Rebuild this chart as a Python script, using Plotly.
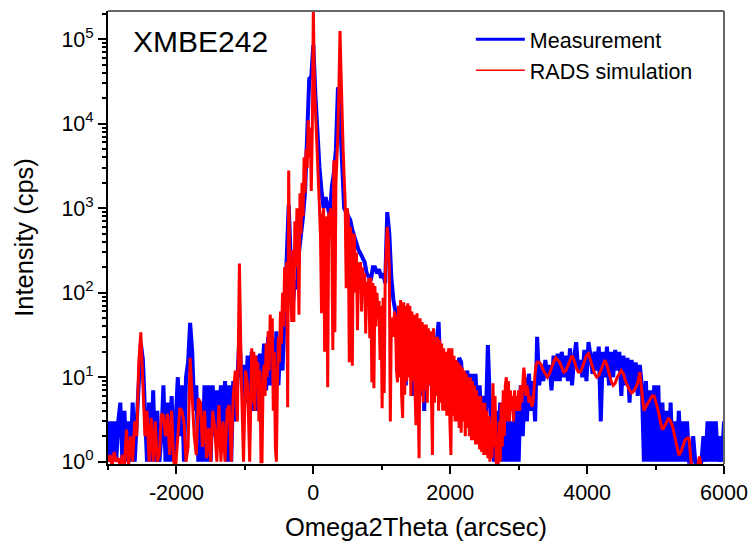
import plotly.graph_objects as go

angle = list(range(-3000, 6001, 30))

measurement = [
 1,3,1,3,1,3,5,1,4,1,
 3,1,5,1,3,12,25,16,3,1,
 5,1,7,1,4,1,2,8,1,5,
 1,6,1,3,10,2,8,1,10,15,
 44,20,4,8,1,5,1,8,1,8,
 1,8,2,7,3,8,2,9,1,8,
 1,9,3,9,30,10,14,5,18,6,
 20,4,18,4,19,8,25,7,30,8,
 22,7,35,8,30,12,45,300,1100,250,
 70,140,110,300,450,800,1600,7000,34000,36000,
 85000,22000,6500,3000,1600,1000,1350,1000,800,1800,
 2600,5000,27000,12000,3100,1000,900,800,720,550,
 450,400,320,290,265,230,170,150,140,200,
 200,170,190,150,170,130,900,500,150,82,
 60,20,70,12,50,8,60,10,40,6,
 8,45,6,35,4,30,8,25,5,22,
 25,45,10,18,6,15,5,15,4,14,
 6,17,15,5,8,12,3,11,3,11,
 3,8,2,6,3,24,5,2,1,4,
 1,5,1,6,1,5,1,3,1,6,
 1,8,2,10,3,11,4,9,3,30,
 8,14,9,16,10,14,7,18,9,19,
 9,20,10,18,9,22,8,17,26,12,
 16,10,21,9,26,18,11,20,12,23,
 3,20,10,23,8,20,10,21,12,20,
 6,18,8,17,5,16,7,15,6,14,
 8,1,9,1,7,1,8,1,8,1,
 5,1,4,1,5,1,3,1,4,1,
 3,1,3,1,1,2,1,0.8,0.8,1,
 2,1,3,1,3,1,3,1,2,1,
 3,
]

angle_sim_left = list(range(-3000, -900, 30))
sim_left = [
 1,1.2,0.9,1.3,1,1.1,0.9,1.2,0.9,2.4,
 0.9,2,1,3,2,15,34,8,2,4,
 1,3.3,1,3,1,1.2,3.7,3.5,2,3.7,
 1.2,4,1,0.9,2,4.3,4,3,1,1.5,
 17,6,2,1.2,5.6,5,1.5,4,1.1,2.5,
 1,4,2.5,1,4.7,1,3,1,4,4.7,
 1,6,12,3,222,8,1,12,8,1,
]

angle_sim_mid = list(range(-900, 3300, 15))
sim_mid = [
 22,5,20,4,18,8,15,3,12,1,1,8,14,6,25,10,35,12,55,20,
 50,4,20,1.5,1,8,30,15,60,25,100,40,200,60,230,4.4,2800,150,100,45,
 320,45,700,200,1000,300,55,1500,500,2000,800,4000,1500,5000,3000,11000,4000,9000,1600,9000,
 230000,30000,16000,8000,5000,2500,1000,450,57,800,1000,20,800,600,7.6,900,700,1000,400,21,
 3700,34,2000,4000,8000,30000,125000,40000,10000,5000,2400,1200,113,1000,800,15,600,450,13.7,500,
 450,100,300,36,230,120,230,60,200,100,170,33,135,70,150,29,150,8.7,130,7.4,
 120,40,100,50,80,16,70,4.3,87,6.5,150,300,600,400,200,3,51,40,30,60,
 51,12,8.7,70,10,82,6,3.3,77,6.2,70,9,75,10,70,6,60,9,55,7,
 2.7,57,8,1.1,50,7,45,5,42,7,42,5,38,8,35,5,1.2,38,5,30,
 6,30,4,28,5,25,4,22,4,20,3.5,18,22,3,1.2,22,3.5,18,3,16,
 3,15,2.5,14,2.2,13,3,12,2,11,2.5,10,2,10,1.8,9,1.8,8,1.6,7,
 1.6,6,1.4,6,1.3,5,1.2,5,1.2,4,1.1,3.5,1,3,1.1,8.5,1.5,6,1,0.9,
 0.9,3,1,5,1.5,7,2,8,10,3,9,3,7,4,6,3,7,4,6,4,
 7,4,8,5,10,13,10,6,8,7,5,6,5,4.5,5,8,11,14,15,15,
]

angle_sim_right = list(range(3300, 5701, 30))
sim_right = [
 15,14,12,11,10,11,13,15,17,16,
 15,13,11.5,12,14,16,18,16,13,11.5,
 11.5,13,15,18,19,16,13,11,10,10.5,
 12,14,16,14,11,9,8,8.5,10,11,
 12,11,9,8,7,6.5,6.8,7.5,8.7,11.5,
 7,4,4.5,5,5.5,6,6,5,4,3,
 2.4,2.6,3.0,3.3,3,2.6,2,1.5,1.2,1.3,
 1.5,1.8,1.9,1.9,0.95,0.9,0.85,0.85,1.15,0.85,
 0.85,
]

x_ticks = [-2000, 0, 2000, 4000, 6000]
x_labels = ["-2000", "0", "2000", "4000", "6000"]
x_minor = [-3000, -1000, 1000, 3000, 5000]
y_ticks = [1, 10, 100, 1000, 10000, 100000]
y_labels = ["10<sup>0</sup>", "10<sup>1</sup>", "10<sup>2</sup>", "10<sup>3</sup>", "10<sup>4</sup>", "10<sup>5</sup>"]
y_minor = [m * t for t in y_ticks for m in range(2, 10) if m * t < 215000]

FONT = "Liberation Sans"
fig = go.Figure()
fig.add_trace(go.Scatter(x=angle, y=measurement, mode="lines", showlegend=False,
                         line=dict(color="#0000ff", width=4)))
fig.add_trace(go.Scatter(x=angle_sim_left + angle_sim_mid + angle_sim_right,
                         y=sim_left + sim_mid + sim_right, mode="lines", showlegend=False,
                         line=dict(color="#ff0000", width=3)))
fig.add_trace(go.Scatter(x=[None], y=[None], mode="lines", name="Measurement",
                         line=dict(color="#0000ff", width=3)))
fig.add_trace(go.Scatter(x=[None], y=[None], mode="lines", name="RADS simulation",
                         line=dict(color="#ff0000", width=1.5)))

fig.update_layout(
    width=749, height=541,
    margin=dict(l=107.5, r=25, t=11, b=77, autoexpand=False),
    paper_bgcolor="white", plot_bgcolor="white",
    font=dict(family=FONT, color="black"),
    legend=dict(x=0.589, y=0.983, xanchor="left", yanchor="top", bgcolor="rgba(0,0,0,0)",
                font=dict(size=21.5, family=FONT), itemwidth=49),
    xaxis=dict(range=[-3000, 6000], tickmode="array", tickvals=x_ticks, ticktext=x_labels, ticks="outside", ticklen=8, tickwidth=2,
               tickcolor="black", showline=True, linecolor="black", linewidth=2, showgrid=False,
               zeroline=False, tickfont=dict(size=21.5), title=dict(text="Omega2Theta (arcsec)", font=dict(size=25.5), standoff=14),
               minor=dict(tickvals=x_minor, ticks="outside", ticklen=4, tickwidth=2, tickcolor="black", showgrid=False)),
    yaxis=dict(type="log", range=[-0.027, 5.334], tickmode="array", tickvals=y_ticks, ticktext=y_labels, ticks="outside",
               ticklen=8, tickwidth=2, tickcolor="black", showline=True, linecolor="black", linewidth=2,
               showgrid=False, zeroline=False, tickfont=dict(size=21.5), title=dict(text="Intensity (cps)", font=dict(size=25.5), standoff=20),
               minor=dict(tickvals=y_minor, ticks="outside", ticklen=4, tickwidth=1.5, tickcolor="black", showgrid=False)),
    annotations=[dict(text="XMBE242", xref="paper", yref="paper", x=0.0368, y=0.974, xanchor="left", yanchor="top",
                      showarrow=False, font=dict(size=30, family=FONT))],
    shapes=[dict(type="line", xref="paper", yref="paper", x0=0, x1=1, y0=1, y1=1, line=dict(color="#666666", width=2)),
            dict(type="line", xref="paper", yref="paper", x0=1, x1=1, y0=0, y1=1, line=dict(color="#666666", width=2))],
)
fig.write_html("out.html", config={"displayModeBar": False}, post_script="document.body.style.margin='0';")
